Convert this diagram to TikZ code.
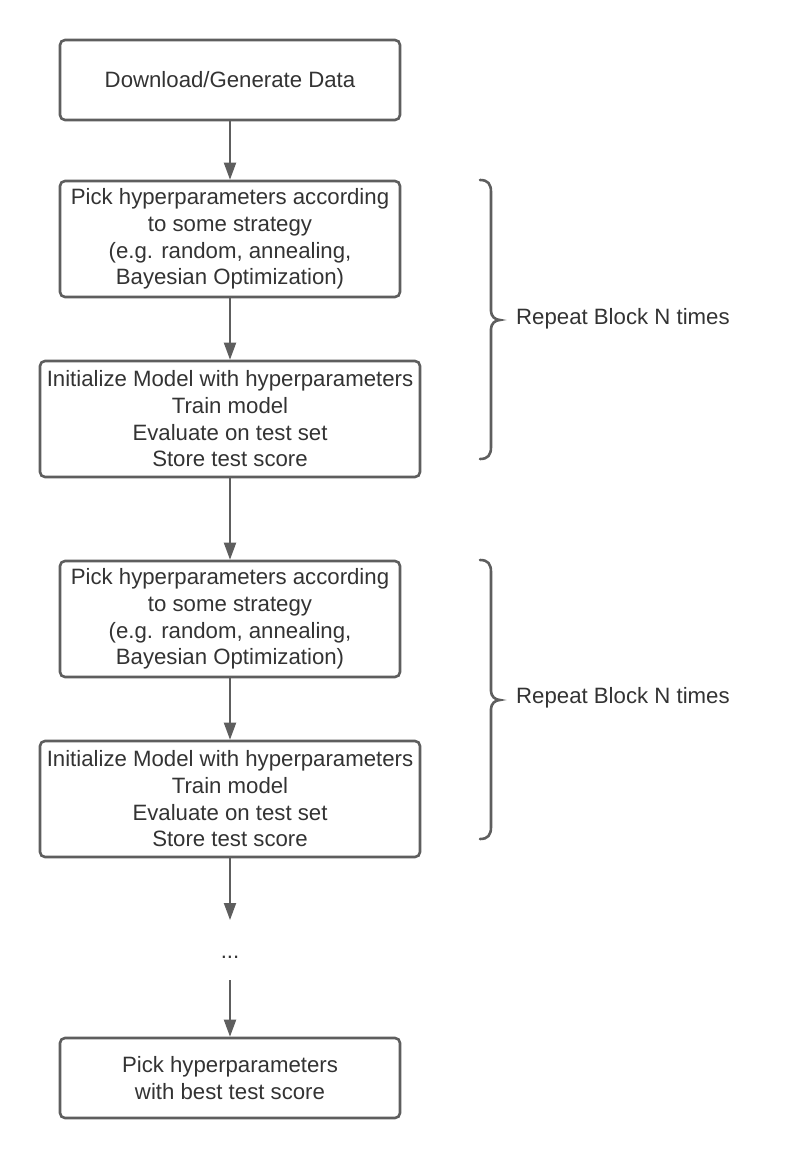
\documentclass[tikz,border=0pt]{standalone}
\usepackage{fontspec}
\setmainfont{Liberation Sans}
\usetikzlibrary{arrows.meta}
\definecolor{linegray}{HTML}{5E5E5E}
\definecolor{textgray}{HTML}{333333}
\begin{document}
\begin{tikzpicture}[x=1pt,y=-1pt,
  flowbox/.style={draw=linegray, line width=2.6pt, rounded corners=5pt, fill=white,
    text=textgray, align=center, inner sep=0pt,
    font=\fontsize{22.2}{26.7}\selectfont},
  flowarrow/.style={draw=linegray, line width=2pt, -{Triangle[length=17pt,width=12pt]}},
  bracepath/.style={draw=linegray, line width=2.6pt, line cap=round},
  lbl/.style={text=textgray, font=\fontsize{22.2}{26.7}\selectfont, inner sep=0pt}]
\useasboundingbox (0,0) rectangle (800,1158);

\node[flowbox, minimum width=340pt, minimum height=80pt] (b1) at (230,80) {Download/Generate Data};
\node[flowbox, minimum width=340pt, minimum height=116pt] (b2) at (230,239) {Pick hyperparameters according\\to some strategy\\(e.g. random, annealing,\\Bayesian Optimization)};
\node[flowbox, minimum width=380pt, minimum height=116pt] (b3) at (230,419) {Initialize Model with hyperparameters\\Train model\\Evaluate on test set\\Store test score};
\node[flowbox, minimum width=340pt, minimum height=116pt] (b4) at (230,619) {Pick hyperparameters according\\to some strategy\\(e.g. random, annealing,\\Bayesian Optimization)};
\node[flowbox, minimum width=380pt, minimum height=116pt] (b5) at (230,799) {Initialize Model with hyperparameters\\Train model\\Evaluate on test set\\Store test score};
\node[lbl, anchor=base] (dots) at (230,958) {...};
\node[flowbox, minimum width=340pt, minimum height=80pt] (b6) at (230,1078) {Pick hyperparameters\\with best test score};

\coordinate (d1) at (230,920);
\coordinate (d2) at (230,980);

\draw[flowarrow] (b1) -- (b2);
\draw[flowarrow] (b2) -- (b3);
\draw[flowarrow] (b3) -- (b4);
\draw[flowarrow] (b4) -- (b5);
\draw[flowarrow] (b5) -- (d1);
\draw[flowarrow] (d2) -- (b6);

% braces
\draw[bracepath] (480,180) .. controls (488,180) and (491,184) .. (491,192) -- (491,311)
  .. controls (491,316) and (495,320) .. (500,320)
  .. controls (495,320) and (491,324) .. (491,329) -- (491,447)
  .. controls (491,455) and (488,459) .. (480,459);
\node[lbl, anchor=west] (r1) at (516,319) {Repeat Block N times};

\draw[bracepath] (480,560) .. controls (488,560) and (491,564) .. (491,572) -- (491,691)
  .. controls (491,696) and (495,700) .. (500,700)
  .. controls (495,700) and (491,704) .. (491,709) -- (491,827)
  .. controls (491,835) and (488,839) .. (480,839);
\node[lbl, anchor=west] (r2) at (516,698) {Repeat Block N times};
\end{tikzpicture}
\end{document}
